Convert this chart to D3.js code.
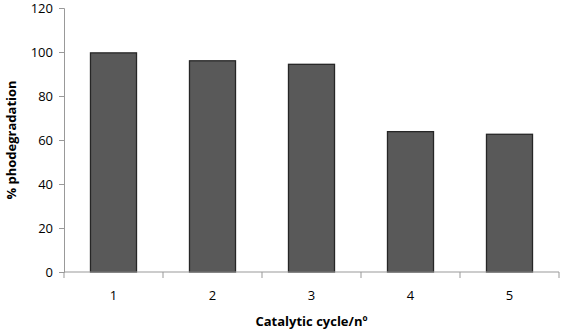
<!DOCTYPE html>
<html>
<head>
<meta charset="utf-8">
<script src="https://cdn.jsdelivr.net/npm/d3@7"></script>
<style>
  body { margin: 0; background: #fff; }
  text { font-family: "Open Sans", "Liberation Sans", sans-serif; fill: #000; }
</style>
</head>
<body>
<svg id="chart" width="567" height="334"></svg>
<script>
const cycles = ['1', '2', '3', '4', '5'];
const degradation = [99.6, 96.0, 94.4, 63.8, 62.6];
const yTicks = [0, 20, 40, 60, 80, 100, 120];

const margin = { top: 8, right: 8, bottom: 62, left: 64 };
const width = 567, height = 334;

const svg = d3.select('#chart');

const x = d3.scaleBand()
  .domain(cycles)
  .range([margin.left, width - margin.right])
  .paddingInner(0.535)
  .paddingOuter(0.2675);

const y = d3.scaleLinear()
  .domain([0, 120])
  .range([height - margin.bottom, margin.top]);

// bars
svg.append('g')
  .selectAll('rect')
  .data(cycles)
  .join('rect')
  .attr('x', d => x(d))
  .attr('y', (d, i) => y(degradation[i]))
  .attr('width', x.bandwidth())
  .attr('height', (d, i) => y(0) - y(degradation[i]))
  .attr('fill', '#595959')
  .attr('stroke', '#262626')
  .attr('stroke-width', 1.3);

// y axis
const yAxis = svg.append('g')
  .attr('transform', `translate(${margin.left},0)`)
  .call(d3.axisLeft(y).tickValues(yTicks).tickSize(5).tickPadding(6));
yAxis.select('.domain').attr('stroke', '#999');
yAxis.selectAll('.tick line').attr('stroke', '#999');
yAxis.selectAll('.tick text').attr('font-size', 13);

// x axis: ticks at category boundaries
const step = x.step();
const bounds = d3.range(cycles.length + 1).map(i => margin.left + i * step);
const xg = svg.append('g');
xg.append('line')
  .attr('x1', margin.left).attr('x2', width - margin.right)
  .attr('y1', y(0)).attr('y2', y(0))
  .attr('stroke', '#999');
xg.selectAll('line.tk')
  .data(bounds)
  .join('line')
  .attr('class', 'tk')
  .attr('x1', d => d).attr('x2', d => d)
  .attr('y1', y(0)).attr('y2', y(0) + 6)
  .attr('stroke', '#999');
xg.selectAll('text')
  .data(cycles)
  .join('text')
  .attr('x', d => x(d) + x.bandwidth() / 2)
  .attr('y', y(0) + 28)
  .attr('text-anchor', 'middle')
  .attr('font-size', 13)
  .text(d => d);

// axis titles
svg.append('text')
  .attr('x', (margin.left + width - margin.right) / 2)
  .attr('y', 326)
  .attr('text-anchor', 'middle')
  .attr('font-size', 13)
  .attr('font-weight', 'bold')
  .text('Catalytic cycle/nº');

svg.append('text')
  .attr('transform', `translate(16,${(margin.top + y(0)) / 2}) rotate(-90)`)
  .attr('text-anchor', 'middle')
  .attr('font-size', 13)
  .attr('font-weight', 'bold')
  .text('% phodegradation');
</script>
</body>
</html>
